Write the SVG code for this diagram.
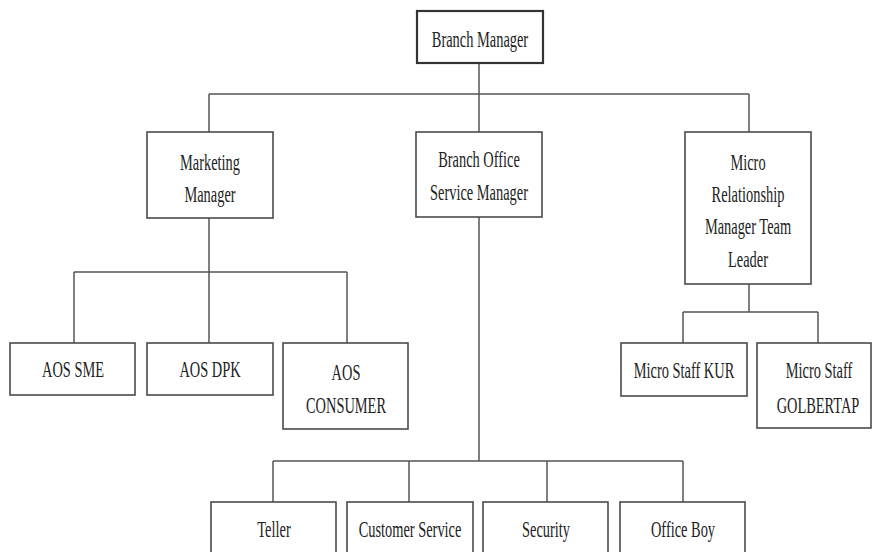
<svg xmlns="http://www.w3.org/2000/svg" width="872" height="552" viewBox="0 0 872 552">
<style>
.box{fill:#fff;stroke:#4a4a4a;stroke-width:1.6}
.bm{stroke-width:2.2;stroke:#333}
.ln{fill:none;stroke:#555;stroke-width:1.5}
text{font-family:"Liberation Serif","Times New Roman",serif;font-size:24px;fill:#222;text-anchor:middle}
</style>
<rect width="872" height="552" fill="#fff"/>
<g id="connectors">
<path class="ln" d="M479,63V94M209,94H749M209,94V132M479,94V132M749,94V132"/>
<path class="ln" d="M209,218V272M74,272H347M74,272V343M209,272V343M347,272V343"/>
<path class="ln" d="M749,284V312M683,312H818M683,312V343M818,312V343"/>
<path class="ln" d="M479,217V461M273,461H683M273,461V502M409,461V502M547,461V502M683,461V502"/>
</g>
<g id="branch-manager"><rect class="box bm" x="417" y="11" width="126" height="52"/><text transform="translate(480,47) scale(0.6,1)">Branch Manager</text></g>
<g id="marketing-manager"><rect class="box" x="147" y="132" width="126" height="86"/><text transform="translate(210,170) scale(0.6,1)">Marketing</text><text transform="translate(210,202) scale(0.6,1)">Manager</text></g>
<g id="bosm"><rect class="box" x="416" y="132" width="126" height="85"/><text transform="translate(479,167) scale(0.6,1)">Branch Office</text><text transform="translate(479,200) scale(0.6,1)">Service Manager</text></g>
<g id="mrmtl"><rect class="box" x="685" y="132" width="126" height="152"/><text transform="translate(748,170) scale(0.6,1)">Micro</text><text transform="translate(748,202) scale(0.6,1)">Relationship</text><text transform="translate(748,234) scale(0.6,1)">Manager Team</text><text transform="translate(748,267) scale(0.6,1)">Leader</text></g>
<g id="aos-sme"><rect class="box" x="10" y="343" width="125" height="52"/><text transform="translate(73,377) scale(0.6,1)">AOS SME</text></g>
<g id="aos-dpk"><rect class="box" x="147" y="343" width="126" height="52"/><text transform="translate(210,377) scale(0.6,1)">AOS DPK</text></g>
<g id="aos-consumer"><rect class="box" x="283" y="343" width="125" height="86"/><text transform="translate(346,380) scale(0.6,1)">AOS</text><text transform="translate(346,413) scale(0.6,1)">CONSUMER</text></g>
<g id="micro-staff-kur"><rect class="box" x="621" y="343" width="126" height="53"/><text transform="translate(684,378) scale(0.6,1)">Micro Staff KUR</text></g>
<g id="micro-staff-golbertap"><rect class="box" x="757" y="343" width="114" height="85"/><text transform="translate(819,378) scale(0.6,1)">Micro Staff</text><text transform="translate(818,413) scale(0.6,1)">GOLBERTAP</text></g>
<g id="teller"><rect class="box" x="211" y="502" width="125" height="60"/><text transform="translate(274,537) scale(0.6,1)">Teller</text></g>
<g id="customer-service"><rect class="box" x="347" y="502" width="126" height="60"/><text transform="translate(410,537) scale(0.6,1)">Customer Service</text></g>
<g id="security"><rect class="box" x="483" y="502" width="125" height="60"/><text transform="translate(546,537) scale(0.6,1)">Security</text></g>
<g id="office-boy"><rect class="box" x="620" y="502" width="125" height="60"/><text transform="translate(683,537) scale(0.6,1)">Office Boy</text></g>
</svg>
